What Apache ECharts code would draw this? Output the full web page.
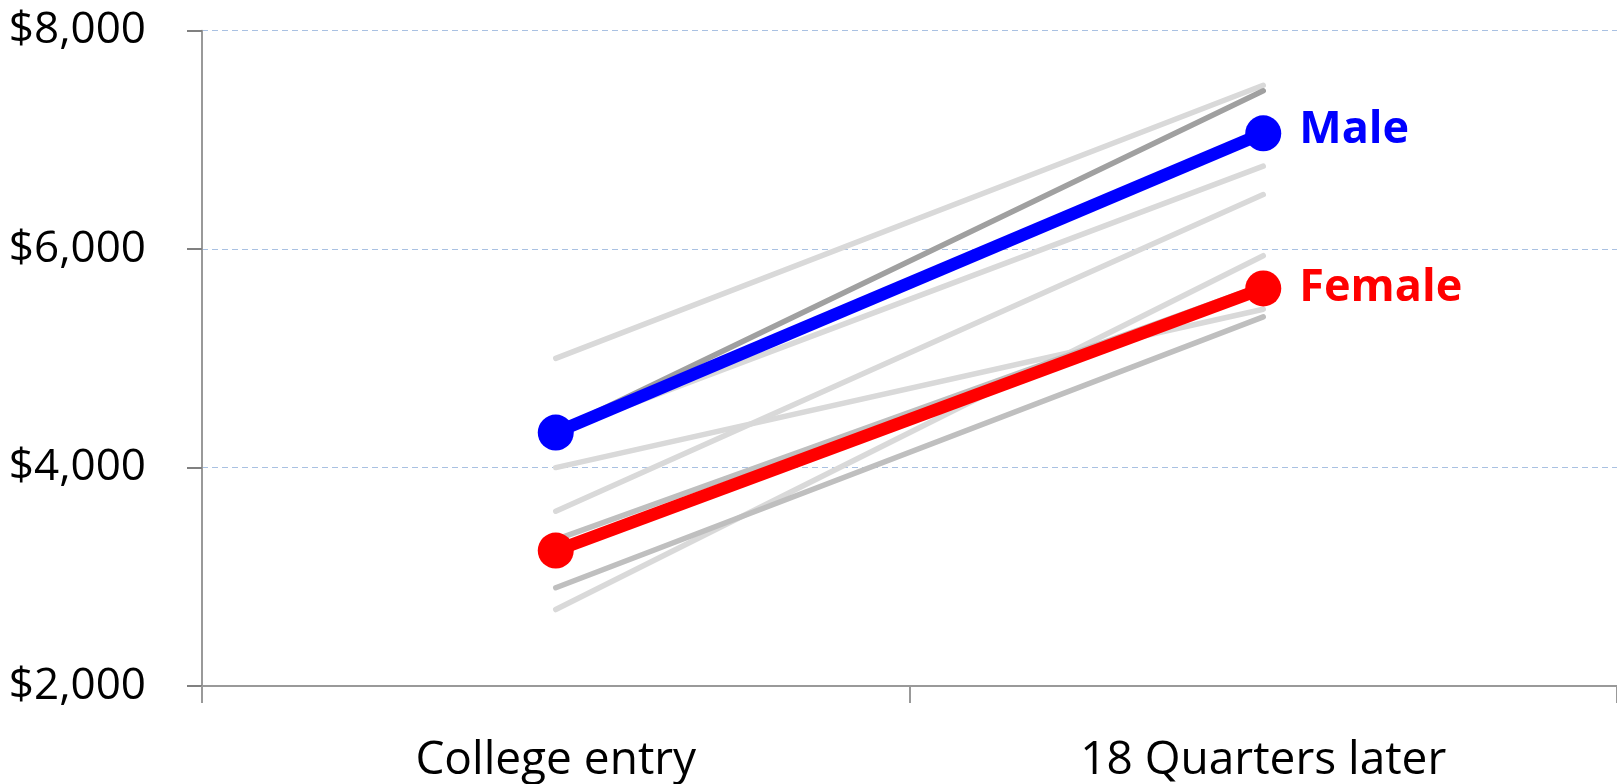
<!DOCTYPE html>
<html>
<head>
<meta charset="utf-8">
<script src="https://cdn.jsdelivr.net/npm/echarts@6/dist/echarts.min.js"></script>
<style>
html,body{margin:0;padding:0;background:#fff;overflow:hidden;width:1617px;height:784px;}
#chart{width:1617px;height:784px;}
</style>
</head>
<body>
<div id="chart"></div>
<script>
const categories = ['College entry', '18 Quarters later'];
const yTicks = [2000, 4000, 6000, 8000];
const maleValues = [4320, 7060];
const femaleValues = [3240, 5640];
const lightLines = [[5000, 7500], [4320, 6760], [4000, 5450], [3600, 6500], [2700, 5940]];
const midLines = [[3340, 5670], [2900, 5380]];
const darkLines = [[4330, 7450]];

function fmt(v) {
  return '$' + String(v).replace(/\B(?=(\d{3})+(?!\d))/g, ',');
}

const series = [];
function bg(values, color) {
  series.push({
    type: 'line', data: values, showSymbol: false, silent: true,
    lineStyle: { color: color, width: 5.5, cap: 'round' },
    emphasis: { disabled: true }
  });
}
lightLines.forEach(v => bg(v, '#d9d9d9'));
midLines.forEach(v => bg(v, '#bfbfbf'));
darkLines.forEach(v => bg(v, '#a0a0a0'));

function main(name, values, color, dy) {
  series.push({
    type: 'line', name: name, data: values, symbol: 'circle', symbolSize: 36,
    itemStyle: { color: color },
    lineStyle: { color: color, width: 12.5 },
    emphasis: { disabled: true },
    endLabel: {
      show: true, formatter: name, color: color, fontSize: 45, fontWeight: 'bold',
      fontFamily: 'Open Sans', distance: 36, offset: [0, dy]
    }
  });
}
main('Female', femaleValues, '#ff0000', 0);
main('Male', maleValues, '#0000ff', -3);

const chart = echarts.init(document.getElementById('chart'), null, { renderer: 'canvas', width: 1617, height: 784 });
chart.setOption({
  animation: false,
  backgroundColor: '#ffffff',
  grid: { left: 202, right: 0, top: 30.7, bottom: 95, containLabel: false },
  xAxis: {
    type: 'category', data: categories, boundaryGap: true,
    axisLine: { lineStyle: { color: '#999999', width: 2 } },
    axisTick: { show: true, length: 17, lineStyle: { color: '#999999', width: 2 } },
    axisLabel: { color: '#000', fontSize: 46, fontFamily: 'Open Sans', margin: 52 },
    splitLine: { show: false }
  },
  yAxis: {
    type: 'value', min: yTicks[0], max: yTicks[yTicks.length - 1], interval: 2000,
    axisLine: { show: true, lineStyle: { color: '#999999', width: 2 } },
    axisTick: { show: true, length: 15, lineStyle: { color: '#808080', width: 2 } },
    axisLabel: { color: '#000', fontSize: 44, fontFamily: 'Open Sans', margin: 56, formatter: fmt },
    splitLine: { show: true, lineStyle: { color: '#a9c1e2', width: 1, type: [6, 4] } }
  },
  series: series
});
</script>
</body>
</html>
